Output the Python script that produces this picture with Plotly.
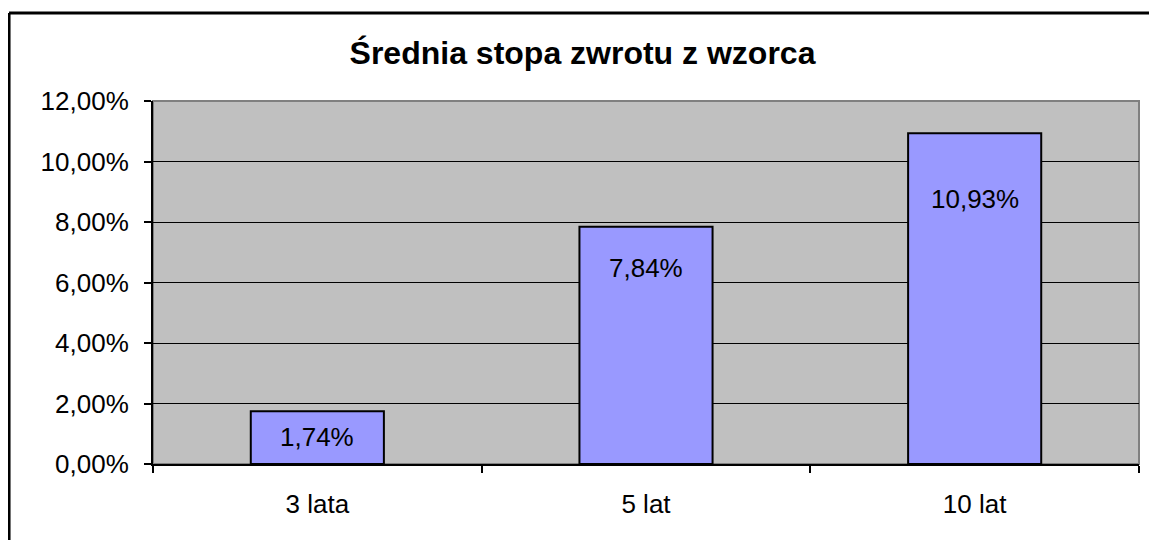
import plotly.graph_objects as go

categories = ["3 lata", "5 lat", "10 lat"]
values = [1.74, 7.84, 10.93]
label_shift = [-26, -41, -66]
title_text = "Średnia stopa zwrotu z wzorca"

FONT = "Liberation Sans, Arial"

fig = go.Figure()
fig.add_trace(go.Bar(
    x=categories, y=values, width=0.405,
    marker=dict(color="#9999FF", line=dict(color="black", width=2)),
    hoverinfo="skip",
))

for c, v, s in zip(categories, values, label_shift):
    fig.add_annotation(x=c, y=v, yshift=s, text=f"{v:.2f}%".replace(".", ","),
                       showarrow=False, yanchor="middle",
                       font=dict(family=FONT, size=26, color="black"))

W, H = 1149, 532
fig.update_layout(
    width=W, height=H,
    margin=dict(l=145, r=18, t=93, b=76),
    paper_bgcolor="white", plot_bgcolor="#C0C0C0",
    showlegend=False,
    separators=", ",
    title=dict(text=title_text, x=0.5, xref="container", xanchor="center",
               y=1 - 45 / H, yref="container", yanchor="middle",
               font=dict(family=FONT, size=32, color="black", weight="bold")),
    font=dict(family=FONT, size=26, color="black"),
)
fig.update_yaxes(range=[0, 12], dtick=2, tickformat=".2f", ticksuffix="%",
                 showgrid=True, gridcolor="black", gridwidth=1,
                 showline=True, linecolor="black", linewidth=2,
                 ticks="outside", ticklen=7, tickcolor="black", tickwidth=1.5,
                 ticklabelstandoff=10,
                 zeroline=False, fixedrange=True)
fig.update_xaxes(showgrid=False, tickson="boundaries",
                 showline=True, linecolor="black", linewidth=2,
                 ticks="outside", ticklen=7, tickcolor="black", tickwidth=1.5,
                 ticklabelstandoff=16,
                 fixedrange=True)

# plot area border (gray top/right)
fig.add_shape(type="rect", xref="paper", yref="paper", x0=0, y0=0, x1=1, y1=1,
              line=dict(color="#808080", width=2), layer="below")
# outer chart border (top and left visible)
fig.add_shape(type="line", xref="paper", yref="paper", x0=-0.146, x1=1.1, y0=1.2424, y1=1.2424,
              line=dict(color="black", width=3))
fig.add_shape(type="line", xref="paper", yref="paper", x0=-0.146, x1=-0.146, y0=1.2424, y1=-0.3,
              line=dict(color="black", width=3))

fig.write_html("out.html")
